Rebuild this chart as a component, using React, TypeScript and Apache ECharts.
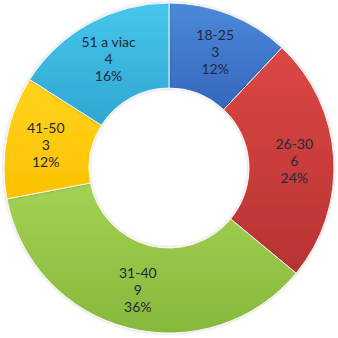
import React, { useEffect, useRef } from "react";
import * as echarts from "echarts";

const categories = ["18-25", "26-30", "31-40", "41-50", "51 a viac"];
const counts = [3, 6, 9, 3, 4];
const percents = [12, 24, 36, 12, 16];

// top / bottom shades of each slice
const sliceColors: [string, string][] = [
  ["#4b8ad9", "#3566bd"],
  ["#dc4744", "#b83333"],
  ["#a4d254", "#86b83a"],
  ["#ffd41f", "#fcc100"],
  ["#48c6ec", "#2ea6d1"],
];

export default function App() {
  const ref = useRef<HTMLDivElement>(null);

  useEffect(() => {
    if (!ref.current) return;
    const chart = echarts.init(ref.current, undefined, { renderer: "svg" });
    const data = categories.map((name, i) => ({
      name,
      value: counts[i],
      itemStyle: {
        color: new echarts.graphic.LinearGradient(0, 0, 0, 1, [
          { offset: 0, color: sliceColors[i][0] },
          { offset: 1, color: sliceColors[i][1] },
        ]),
      },
    }));
    chart.setOption({
      animation: false,
      backgroundColor: "#ffffff",
      series: [
        {
          type: "pie",
          center: [169, 168],
          radius: [80, 165],
          startAngle: 90,
          clockwise: true,
          data,
          itemStyle: {
            borderColor: "rgba(255,255,255,0.85)",
            borderWidth: 1,
            shadowBlur: 3,
            shadowColor: "rgba(0,0,0,0.25)",
          },
          label: {
            show: true,
            position: "inside",
            formatter: (p: any) =>
              `${p.name}\n${p.value}\n${percents[p.dataIndex]}%`,
            color: "#22283a",
            fontFamily: "Lato, sans-serif",
            fontSize: 14,
            lineHeight: 17,
            align: "center",
          },
          labelLine: { show: false },
          emphasis: { disabled: true },
        },
      ],
    });
    return () => chart.dispose();
  }, []);

  return (
    <div
      ref={ref}
      style={{ position: "fixed", left: 0, top: 0, width: 338, height: 338 }}
    />
  );
}
